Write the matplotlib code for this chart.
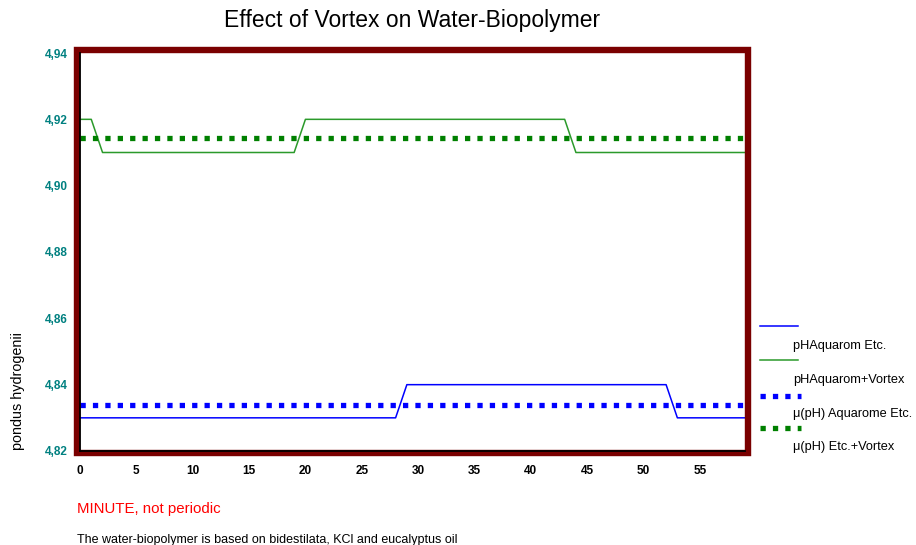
import matplotlib
matplotlib.use("Agg")
import matplotlib.pyplot as plt
from matplotlib.lines import Line2D
from matplotlib.patches import Rectangle

plt.rcParams['font.family'] = ['Liberation Sans', 'DejaVu Sans']

# ---- data ----
minutes = list(range(0, 60))
ph_vortex = ([4.92] * 2) + ([4.91] * 18) + ([4.92] * 24) + ([4.91] * 16)
ph_etc = ([4.83] * 29) + ([4.84] * 24) + ([4.83] * 7)
mean_etc = 4.834
mean_vortex = 4.9143
x_ticks = [0, 5, 10, 15, 20, 25, 30, 35, 40, 45, 50, 55]
y_ticks = [4.82, 4.84, 4.86, 4.88, 4.90, 4.92, 4.94]
y_tick_labels = ["4,82", "4,84", "4,86", "4,88", "4,90", "4,92", "4,94"]
legend_labels = ["pHAquarom Etc.", "pHAquarom+Vortex",
                 "\u03bc(pH) Aquarome Etc.", "\u03bc(pH) Etc.+Vortex"]

W, H = 916, 545
fig = plt.figure(figsize=(W / 100, H / 100), dpi=100)
fig.patch.set_facecolor('white')

def fx(px):
    return px / W

def fy(py):
    return 1 - py / H

ax = fig.add_axes([fx(80), fy(451), fx(745) - fx(80), fy(53) - fy(451)])
ax.set_xlim(0, 59)
ax.set_ylim(4.82, 4.94)

blue = '#0000ff'
green_solid = '#2b9a2b'
green_dot = '#008000'

ax.plot(minutes, ph_etc, color=blue, lw=1.1)
ax.plot(minutes, ph_vortex, color=green_solid, lw=1.1)
ax.axhline(mean_etc, color=blue, lw=3.8, dashes=(1.0, 1.35), solid_capstyle='butt', dash_capstyle='butt')
ax.axhline(mean_vortex, color=green_dot, lw=3.8, dashes=(1.0, 1.35), solid_capstyle='butt', dash_capstyle='butt')

for s in ax.spines.values():
    s.set_visible(False)

ax.set_xticks(x_ticks)
ax.set_xticklabels([str(v) for v in x_ticks])
ax.set_yticks(y_ticks)
ax.set_yticklabels(y_tick_labels)
ax.tick_params(axis='x', length=0, pad=10, labelsize=8.5, labelcolor='black')
ax.tick_params(axis='y', length=2, width=1.2, pad=7, labelsize=8.5, labelcolor='#008080', color='black', direction='out')
for t in ax.get_yticklabels():
    t.set_fontweight('bold')
for t in ax.get_xticklabels():
    t.set_fontweight('bold')

# frame
frame = Rectangle((fx(77), fy(453)), fx(748) - fx(77), fy(50) - fy(453),
                  transform=fig.transFigure, fill=False, edgecolor='#7a0000',
                  lw=4.6, zorder=10, clip_on=False)
fig.add_artist(frame)
fig.add_artist(Line2D([fx(79.5), fx(79.5)], [fy(451), fy(53)], color='black', lw=1.3, zorder=11))
fig.add_artist(Line2D([fx(79.5), fx(745)], [fy(450.5), fy(450.5)], color='black', lw=1.3, zorder=11))

# title
fig.text(fx(412), fy(21), "Effect of Vortex on Water-Biopolymer", ha='center', va='center', fontsize=16.5)

# y label
fig.text(fx(18), fy(450), "pondus hydrogenii", rotation=90, ha='center', va='bottom', fontsize=10.4)

# bottom texts
fig.text(fx(77), fy(509), "MINUTE, not periodic", color='red', ha='left', va='center', fontsize=10.8)
fig.text(fx(77), fy(540), "The water-biopolymer is based on bidestilata, KCl and eucalyptus oil",
         color='black', ha='left', va='center', fontsize=9)

# legend
leg_x0, leg_x1 = fx(760), fx(798)
fig.add_artist(Line2D([leg_x0, leg_x1], [fy(326), fy(326)], color=blue, lw=1.1))
fig.add_artist(Line2D([leg_x0, leg_x1], [fy(360), fy(360)], color=green_solid, lw=1.1))
fig.add_artist(Line2D([leg_x0, fx(801)], [fy(396), fy(396)], color=blue, lw=3.8, dashes=(1.0, 1.35), dash_capstyle='butt'))
fig.add_artist(Line2D([leg_x0, fx(801)], [fy(428), fy(428)], color=green_dot, lw=3.8, dashes=(1.0, 1.35), dash_capstyle='butt'))
text_y = [346, 380, 414, 447]
for lab, ty in zip(legend_labels, text_y):
    fig.text(fx(793), fy(ty), lab, ha='left', va='center', fontsize=9.2)

fig.savefig("out.png", dpi=100, facecolor='white')
